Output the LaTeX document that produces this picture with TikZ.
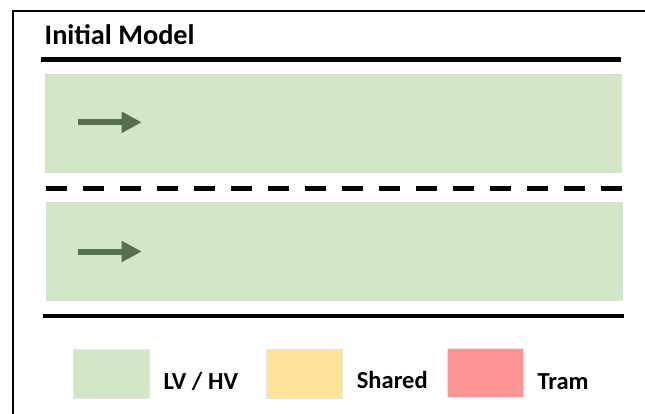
\documentclass[tikz,border=0pt]{standalone}
\usepackage{fontspec}
\setmainfont{Carlito}
\usetikzlibrary{arrows.meta}
\definecolor{lanegreen}{HTML}{D3E6C8}
\definecolor{laneedge}{HTML}{CFE0D6}
\definecolor{sharedyel}{HTML}{FFE396}
\definecolor{tramred}{HTML}{FF9494}
\definecolor{arrowgreen}{HTML}{56704C}
\tikzset{
  lane/.style={fill=lanegreen, draw=laneedge, line width=0.8pt, anchor=north west, inner sep=0pt, minimum width=576pt, minimum height=98pt},
  legbox/.style={draw=black!10, line width=0.6pt, anchor=north west, inner sep=0pt, minimum width=76pt, minimum height=49pt},
  legtext/.style={anchor=base west, inner sep=0pt, font=\bfseries\fontsize{24.5}{26}\selectfont},
  thickline/.style={line width=4.8pt},
  frameline/.style={line width=2pt},
  dirarrow/.style={arrowgreen, line width=6pt, -{Triangle[length=20pt,width=20pt]}},
}
\begin{document}
\begin{tikzpicture}[x=1pt,y=-1pt]
\useasboundingbox (0,0) rectangle (645,414);
% outer frame (only left and top visible)
\coordinate (fbl) at (13,414);
\coordinate (ftl) at (13,11);
\coordinate (ftr) at (645,11);
\draw[frameline] (fbl) -- (ftl) -- (ftr);
% title
\node[anchor=base west, inner sep=0pt, font=\bfseries\fontsize{28.3}{30}\selectfont] (title) at (44.5,44.5) {Initial Model};
% top solid line
\coordinate (tl1) at (41,59.5);
\coordinate (tl2) at (621,59.5);
\draw[thickline] (tl1) -- (tl2);
% lanes
\node[lane] (lane1) at (45,74) {};
\node[lane] (lane2) at (46,202) {};
% dashed line
\coordinate (dl1) at (46,188.5);
\coordinate (dl2) at (622,188.5);
\draw[thickline, dash pattern=on 21pt off 16pt] (dl1) -- (dl2);
% bottom solid line
\coordinate (bl1) at (43,316);
\coordinate (bl2) at (624,316);
\draw[thickline] (bl1) -- (bl2);
% direction arrows
\coordinate (a1s) at (77.7,122.3);
\coordinate (a1e) at (141.7,122.3);
\coordinate (a2s) at (77.7,251.5);
\coordinate (a2e) at (141.7,251.5);
\draw[dirarrow] (a1s) -- (a1e);
\draw[dirarrow] (a2s) -- (a2e);
% legend
\node[legbox, fill=lanegreen] (lgreen) at (73,348.7) {};
\node[legbox, fill=sharedyel] (lyellow) at (266,348.7) {};
\node[legbox, fill=tramred] (lred) at (446.7,347.5) {};
\node[legtext] (tgreen) at (163.3,389.3) {LV / HV};
\node[legtext] (tyellow) at (356.7,388.8) {Shared};
\node[legtext] (tred) at (537.3,389.2) {Tram};
\end{tikzpicture}
\end{document}
